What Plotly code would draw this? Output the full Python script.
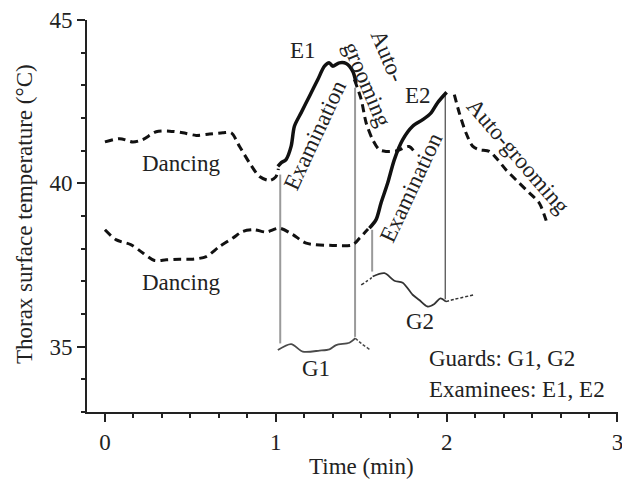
import plotly.graph_objects as go

# ---- data (time in min, temperature in °C) ----
dance1_x = [0.0, 0.087, 0.164, 0.22, 0.30, 0.378, 0.456, 0.534, 0.612, 0.69, 0.739, 0.788, 0.846, 0.905, 0.963, 1.0, 1.015]
dance1_y = [41.27, 41.37, 41.27, 41.34, 41.58, 41.6, 41.55, 41.47, 41.51, 41.55, 41.55, 41.13, 40.63, 40.21, 40.09, 40.2, 40.45]

e1_x = [1.012, 1.031, 1.06, 1.09, 1.109, 1.148, 1.197, 1.246, 1.285, 1.314, 1.333, 1.372, 1.412, 1.45, 1.47]
e1_y = [40.52, 40.63, 40.73, 41.14, 41.75, 42.16, 42.67, 43.18, 43.59, 43.69, 43.59, 43.69, 43.67, 43.44, 43.08]

groom1_x = [1.46, 1.5, 1.529, 1.567, 1.606, 1.645, 1.71, 1.78, 1.81]
groom1_y = [43.18, 42.57, 41.85, 41.34, 41.03, 40.98, 41.0, 41.13, 40.98]

dance2_x = [0.0, 0.067, 0.154, 0.222, 0.29, 0.359, 0.437, 0.515, 0.593, 0.671, 0.749, 0.807, 0.875, 0.944, 1.021, 1.1, 1.178, 1.333, 1.45, 1.49, 1.54]
dance2_y = [38.58, 38.27, 38.12, 37.87, 37.64, 37.66, 37.68, 37.68, 37.76, 38.07, 38.33, 38.53, 38.58, 38.51, 38.63, 38.43, 38.17, 38.1, 38.12, 38.32, 38.6]

e2_x = [1.548, 1.587, 1.616, 1.655, 1.694, 1.743, 1.801, 1.86, 1.909, 1.947, 2.0]
e2_y = [38.63, 38.89, 39.4, 40.01, 40.73, 41.34, 41.75, 41.95, 42.16, 42.47, 42.79]

groom2_x = [2.045, 2.074, 2.113, 2.152, 2.191, 2.25, 2.298, 2.347, 2.425, 2.484, 2.542, 2.581, 2.591]
groom2_y = [42.72, 42.16, 41.55, 41.14, 41.03, 40.98, 40.73, 40.42, 40.01, 39.71, 39.4, 38.89, 38.73]

g1_x = [1.012, 1.09, 1.158, 1.256, 1.314, 1.353, 1.431, 1.466]
g1_y = [34.9, 35.08, 34.85, 34.88, 34.92, 35.05, 35.12, 35.26]
g1_tail_x = [1.466, 1.5, 1.548]
g1_tail_y = [35.26, 35.10, 34.92]

g2_lead_x = [1.5, 1.558, 1.567]
g2_lead_y = [36.89, 37.10, 37.15]
g2_x = [1.567, 1.636, 1.694, 1.743, 1.801, 1.84, 1.889, 1.928, 1.963, 1.996]
g2_y = [37.15, 37.25, 37.02, 36.96, 36.59, 36.43, 36.23, 36.31, 36.48, 36.38]
g2_tail_x = [1.996, 2.045, 2.162]
g2_tail_y = [36.38, 36.45, 36.59]

# connectors between examinee and guard traces
conn1_x, conn1_y = [1.026, 1.026], [40.27, 35.1]
conn2_x, conn2_y = [1.464, 1.464], [42.93, 35.3]
conn3_x, conn3_y = [1.564, 1.564], [38.58, 37.3]
conn4_x, conn4_y = [1.992, 1.992], [42.72, 36.45]

x_ticks = [0, 1, 2, 3]
y_ticks = [35, 40, 45]

FONT = "Liberation Serif, Times New Roman, serif"
TXT = "#222222"
FS = 23

fig = go.Figure()

def add(x, y, color, width, dash=None, shape="spline"):
    fig.add_trace(go.Scatter(x=x, y=y, mode="lines",
                             line=dict(color=color, width=width, dash=dash, shape=shape,
                                       smoothing=0.8 if shape == "spline" else None),
                             hoverinfo="skip", showlegend=False, cliponaxis=False))

add(conn1_x, conn1_y, "#9a9a9a", 2, shape="linear")
add(conn2_x, conn2_y, "#9a9a9a", 2, shape="linear")
add(conn3_x, conn3_y, "#9a9a9a", 2, shape="linear")
add(conn4_x, conn4_y, "#555555", 1.3, shape="linear")

add(g1_x, g1_y, "#4a4a4a", 1.8)
add(g1_tail_x, g1_tail_y, "#4a4a4a", 1.5, dash="3px,2px")
add(g2_lead_x, g2_lead_y, "#333333", 1.5, dash="3px,2px")
add(g2_x, g2_y, "#333333", 1.8)
add(g2_tail_x, g2_tail_y, "#333333", 1.5, dash="3px,2px")

DASH = "8px,5px"
add(dance1_x, dance1_y, "#111111", 3, dash=DASH)
add(dance2_x, dance2_y, "#111111", 3, dash=DASH)
add(groom1_x, groom1_y, "#111111", 3, dash=DASH)
add(groom2_x, groom2_y, "#111111", 3, dash=DASH)
add(e1_x, e1_y, "#111111", 3.5)
add(e2_x, e2_y, "#111111", 3.5)

def label(text, x, y, angle=0, xanchor="center", align="center"):
    fig.add_annotation(text=text, x=x, y=y, xref="x", yref="y", showarrow=False,
                       textangle=angle, xanchor=xanchor, yanchor="middle", align=align,
                       font=dict(family=FONT, size=FS, color=TXT))

label("Dancing", 0.443, 40.6)
label("Dancing", 0.443, 36.98)
label("E1", 1.162, 44.07)
label("E2", 1.835, 42.69)
label("Examination", 1.232, 41.49, angle=-65)
label("Examination", 1.792, 39.88, angle=-65)
label("Auto-<br>grooming", 1.615, 43.21, angle=67, align="left")
label("Auto-grooming", 2.419, 40.81, angle=49)
label("G1", 1.238, 34.32)
label("G2", 1.846, 35.76)
label("Guards: G1, G2", 1.887, 34.65, xanchor="left")
label("Examinees: E1, E2", 1.887, 33.70, xanchor="left")

fig.add_annotation(text="Time (min)", x=1.501, y=-0.14, xref="x", yref="paper",
                   showarrow=False, xanchor="center", yanchor="middle",
                   font=dict(family=FONT, size=FS, color=TXT))
fig.add_annotation(text="Thorax surface temperature (°C)", x=-0.1186, y=0.505,
                   xref="paper", yref="paper", showarrow=False, textangle=-90,
                   xanchor="center", yanchor="middle",
                   font=dict(family=FONT, size=FS, color=TXT))

fig.update_layout(
    width=622, height=482,
    margin=dict(l=87, r=4, t=20, b=70, autoexpand=False),
    paper_bgcolor="white", plot_bgcolor="white",
    font=dict(family=FONT, size=FS, color=TXT),
    showlegend=False,
    xaxis=dict(range=[-0.105, 3.003], tickvals=x_ticks, ticktext=[str(v) for v in x_ticks],
               automargin=False, ticklabeloverflow="allow",
               showline=True, linecolor="#222222", linewidth=2,
               ticks="outside", ticklen=8, tickwidth=2, tickcolor="#222222",
               minor=dict(dtick=1/6, tick0=0, ticks="outside", ticklen=4, tickwidth=2, tickcolor="#222222"),
               showgrid=False, zeroline=False, fixedrange=True),
    yaxis=dict(range=[33, 45.003], tickvals=y_ticks, ticktext=[str(v) for v in y_ticks],
               automargin=False, ticklabeloverflow="allow",
               showline=True, linecolor="#222222", linewidth=2,
               ticks="outside", ticklen=8, tickwidth=2, tickcolor="#222222",
               minor=dict(dtick=1, tick0=33, ticks="outside", ticklen=4, tickwidth=2, tickcolor="#222222"),
               showgrid=False, zeroline=False, fixedrange=True),
)

# remove the default 8px page margin so the 622x482 figure fills the window exactly
fig.write_html("out.html", config={"displayModeBar": False},
               post_script="document.body.style.margin='0';document.documentElement.style.overflow='hidden';")
